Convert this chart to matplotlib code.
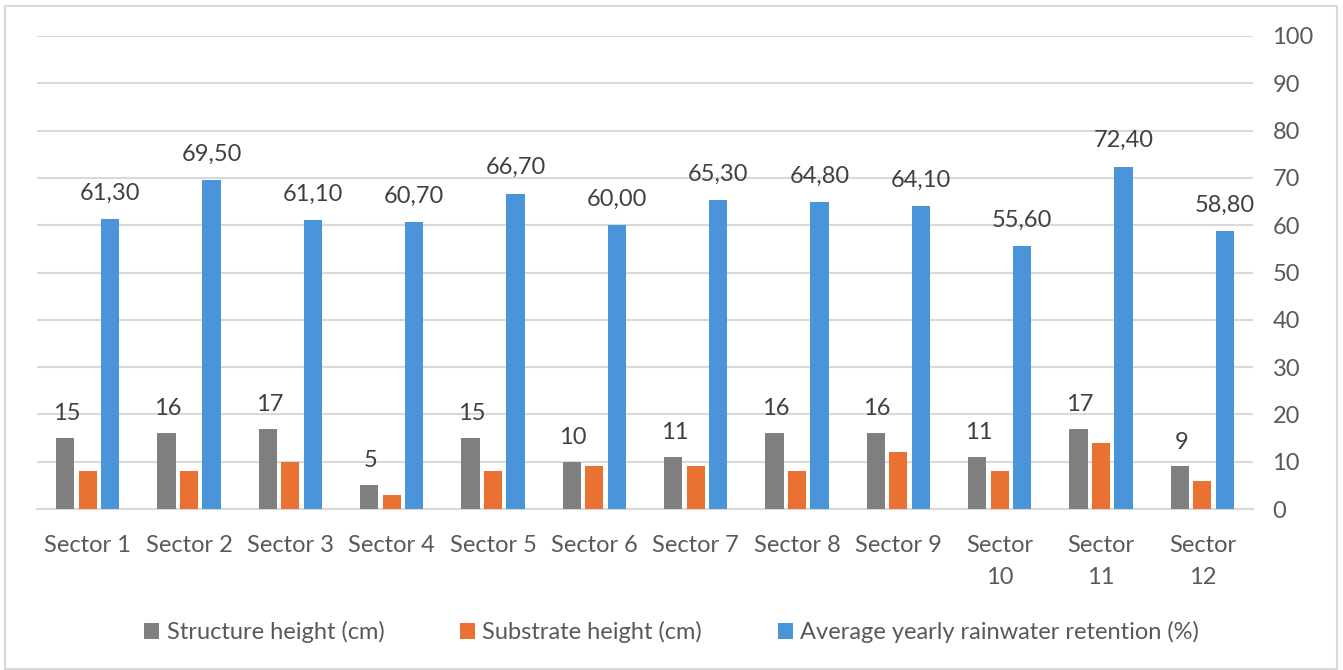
import numpy as np
import matplotlib.pyplot as plt
from matplotlib.patches import Rectangle

plt.rcParams['font.family'] = ['Lato', 'DejaVu Sans']

sectors = ['Sector 1', 'Sector 2', 'Sector 3', 'Sector 4', 'Sector 5', 'Sector 6',
           'Sector 7', 'Sector 8', 'Sector 9', 'Sector\n10', 'Sector\n11', 'Sector\n12']
structure = [15, 16, 17, 5, 15, 10, 11, 16, 16, 11, 17, 9]
substrate = [8, 8, 10, 3, 8, 9, 9, 8, 12, 8, 14, 6]
retention = [61.3, 69.5, 61.1, 60.7, 66.7, 60.0, 65.3, 64.8, 64.1, 55.6, 72.4, 58.8]

gray = '#7F7F7F'
orange = '#E97132'
blue = '#4A94DA'
txt = '#595959'
grid = '#D9D9D9'
fs = 17

fig = plt.figure(figsize=(13.43, 6.70), dpi=100)
ax = fig.add_axes([37/1343, 1-509/670, (1253-37)/1343, (509-36)/670])

x = np.arange(len(sectors))
w = 0.178
off = 0.222
b1 = ax.bar(x - off, structure, w, color=gray, label='Structure height (cm)', zorder=3)
b2 = ax.bar(x, substrate, w, color=orange, label='Substrate height (cm)', zorder=3)
b3 = ax.bar(x + off, retention, w, color=blue, label='Average yearly rainwater retention (%)', zorder=3)

# value labels on structure and retention bars
for xi, v in zip(x - off, structure):
    ax.annotate(str(v), (xi, v), xytext=(1, 10), textcoords='offset points',
                ha='center', va='bottom', fontsize=fs, color='#404040')
for xi, v in zip(x + off, retention):
    ax.annotate(f'{v:.2f}'.replace('.', ','), (xi, v), xytext=(0, 11), textcoords='offset points',
                ha='center', va='bottom', fontsize=fs, color='#404040')

ax.set_xlim(-0.5, len(sectors) - 0.5)
ax.set_ylim(0, 100)
ax.set_yticks(range(0, 101, 10))
ax.yaxis.tick_right()
ax.grid(axis='y', color=grid, lw=1.5, zorder=0)
ax.set_xticks(x)
ax.set_xticklabels(sectors, va='top', linespacing=1.65)
ax.tick_params(axis='x', length=0, pad=19, labelsize=fs, labelcolor=txt)
ax.tick_params(axis='y', length=0, pad=14, labelsize=fs, labelcolor=txt)
for s in ['top', 'left', 'right']:
    ax.spines[s].set_visible(False)
ax.spines['bottom'].set_color(grid)
ax.spines['bottom'].set_linewidth(1.5)

fig.legend(handles=[b1, b2, b3], loc='center', bbox_to_anchor=(0.5, 1-632/670), ncol=3,
           frameon=False, fontsize=fs, labelcolor=txt, handlelength=0.65, handleheight=0.65,
           handletextpad=0.3, columnspacing=3.2)

fig.add_artist(Rectangle((5/1343, 1/670), 1332/1343, 663/670, transform=fig.transFigure,
                         fill=False, edgecolor=grid, lw=1.5))

fig.savefig('out.png', dpi=100)
